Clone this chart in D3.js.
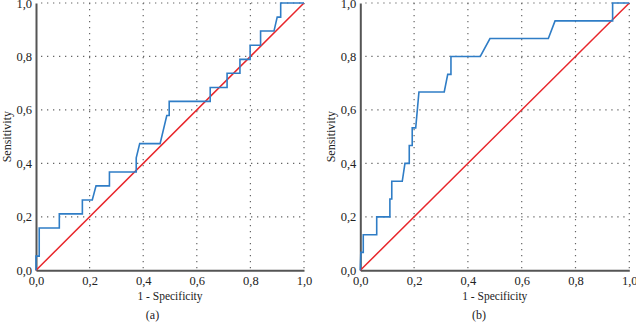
<!DOCTYPE html>
<html>
<head>
<meta charset="utf-8">
<script src="https://cdn.jsdelivr.net/npm/d3@7"></script>
<style>
  body { margin: 0; background: #fff; }
</style>
</head>
<body>
<div id="my_dataviz"></div>
<script>
// ROC curve (a)
const fprA = [0, 0, 0.012, 0.012, 0.087, 0.087, 0.173, 0.173, 0.21, 0.224, 0.274, 0.274, 0.374, 0.374, 0.387, 0.463, 0.488, 0.497, 0.497, 0.65, 0.65, 0.713, 0.713, 0.761, 0.761, 0.799, 0.799, 0.838, 0.838, 0.888, 0.9, 0.913, 0.913, 1];
const tprA = [0, 0.053, 0.053, 0.158, 0.158, 0.211, 0.211, 0.263, 0.263, 0.316, 0.316, 0.368, 0.368, 0.421, 0.474, 0.474, 0.579, 0.579, 0.632, 0.632, 0.684, 0.684, 0.737, 0.737, 0.789, 0.789, 0.842, 0.842, 0.895, 0.895, 0.947, 0.947, 1, 1];

// ROC curve (b)
const fprB = [0, 0.002, 0.011, 0.011, 0.061, 0.061, 0.11, 0.11, 0.117, 0.117, 0.156, 0.166, 0.182, 0.182, 0.193, 0.193, 0.206, 0.218, 0.312, 0.325, 0.337, 0.337, 0.446, 0.482, 0.699, 0.724, 0.938, 0.938, 1];
const tprB = [0, 0.067, 0.067, 0.133, 0.133, 0.2, 0.2, 0.267, 0.267, 0.333, 0.333, 0.4, 0.4, 0.467, 0.467, 0.533, 0.533, 0.667, 0.667, 0.733, 0.733, 0.8, 0.8, 0.867, 0.867, 0.933, 0.933, 1, 1];

const ticks = [0, 0.2, 0.4, 0.6, 0.8, 1.0];
const tickLabels = ["0,0", "0,2", "0,4", "0,6", "0,8", "1,0"];

const svg = d3.select("#my_dataviz")
  .append("svg")
  .attr("width", 636)
  .attr("height", 323);

const serif = "'Liberation Serif', 'Times New Roman', serif";

function drawPanel(left, right, fpr, tpr, tag, yTitleX, tagX) {
  const top = 3, bottom = 270.3;
  const width = right - left, height = bottom - top;

  const g = svg.append("g").attr("transform", `translate(${left},${top})`);

  const x = d3.scaleLinear().domain([0, 1]).range([0, width]);
  const y = d3.scaleLinear().domain([0, 1]).range([height, 0]);

  // dotted grid
  g.append("g")
    .selectAll("line")
    .data(ticks.slice(1))
    .join("line")
    .attr("x1", d => x(d)).attr("x2", d => x(d))
    .attr("y1", 0).attr("y2", height)
    .attr("stroke", "#666")
    .attr("stroke-width", 1.2)
    .attr("stroke-dasharray", "1.3,4.7");
  g.append("g")
    .selectAll("line")
    .data(ticks.slice(1))
    .join("line")
    .attr("x1", 5).attr("x2", width)
    .attr("y1", d => y(d)).attr("y2", d => y(d))
    .attr("stroke", "#666")
    .attr("stroke-width", 1.2)
    .attr("stroke-dasharray", "1.3,4.7");

  // axes
  const fmt = (d, i) => tickLabels[i];
  const xAxis = g.append("g")
    .attr("transform", `translate(0,${height})`)
    .call(d3.axisBottom(x).tickValues(ticks).tickFormat(fmt).tickSize(0).tickPadding(6));
  const yAxis = g.append("g")
    .call(d3.axisLeft(y).tickValues(ticks).tickFormat(fmt).tickSize(0).tickPadding(4));
  [xAxis, yAxis].forEach(a => {
    a.attr("font-family", serif).attr("font-size", 12.5);
    a.select(".domain").attr("stroke", "#555").attr("stroke-width", 2);
    a.selectAll("text").attr("fill", "#222");
  });

  // reference diagonal
  g.append("line")
    .attr("x1", x(0)).attr("y1", y(0))
    .attr("x2", x(1)).attr("y2", y(1))
    .attr("stroke", "#e8262b")
    .attr("stroke-width", 1.5);

  // ROC curve
  const pts = fpr.map((d, i) => [d, tpr[i]]);
  g.append("path")
    .datum(pts)
    .attr("fill", "none")
    .attr("stroke", "#2f7dc6")
    .attr("stroke-width", 1.6)
    .attr("d", d3.line().x(d => x(d[0])).y(d => y(d[1])));

  // titles
  svg.append("text")
    .attr("x", left + width / 2)
    .attr("y", 300)
    .attr("text-anchor", "middle")
    .attr("font-family", serif)
    .attr("font-size", 11.5)
    .attr("fill", "#222")
    .text("1 - Specificity");

  svg.append("text")
    .attr("transform", `translate(${yTitleX},${top + height / 2}) rotate(-90)`)
    .attr("text-anchor", "middle")
    .attr("font-family", serif)
    .attr("font-size", 12)
    .attr("fill", "#222")
    .text("Sensitivity");

  svg.append("text")
    .attr("x", tagX)
    .attr("y", 319)
    .attr("text-anchor", "middle")
    .attr("font-family", serif)
    .attr("font-size", 12)
    .attr("fill", "#222")
    .text(tag);
}

drawPanel(36, 304, fprA, tprA, "(a)", 11, 152.5);
drawPanel(360.3, 629.3, fprB, tprB, "(b)", 335, 479);
</script>
</body>
</html>
